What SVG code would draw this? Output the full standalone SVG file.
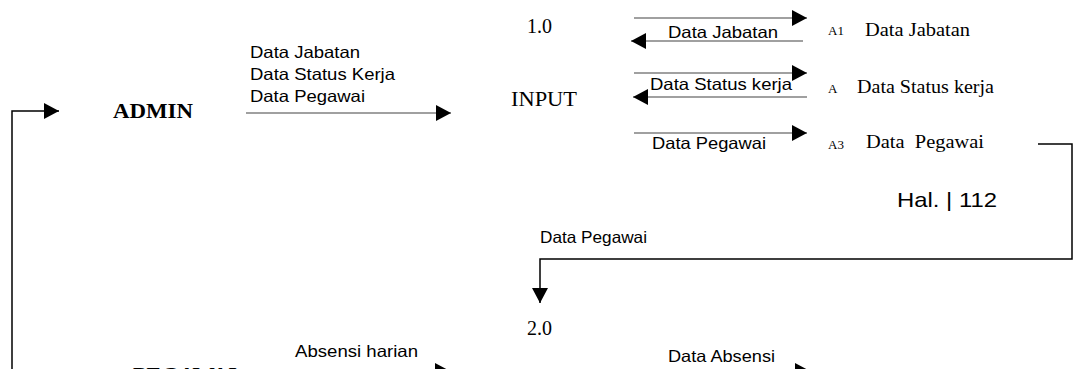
<svg xmlns="http://www.w3.org/2000/svg" width="1083" height="369" viewBox="0 0 1083 369">
<style>
.sans{font-family:"Liberation Sans",Arial,sans-serif;font-size:16.5px;fill:#000}
.serif{font-family:"Liberation Serif","Times New Roman",serif;fill:#000}
.ent{font-weight:bold;font-size:22px}
.flow{fill:none;stroke:#808080;stroke-width:1.3}
.conn{fill:none;stroke:#000;stroke-width:1.5}
</style>
<defs>
<marker id="ah" markerUnits="userSpaceOnUse" markerWidth="16" markerHeight="16" refX="15" refY="8" orient="auto">
<path d="M0,0 L15,8 L0,16 Z" fill="#000"/>
</marker>
</defs>
<rect width="1083" height="369" fill="#fff"/>
<g id="node-admin"><text class="serif ent" x="113" y="118" textLength="80" lengthAdjust="spacingAndGlyphs">ADMIN</text></g>
<g id="node-pegawai"><text class="serif ent" x="133" y="382" textLength="104" lengthAdjust="spacingAndGlyphs">PEGAWAI</text></g>
<g id="node-p1">
<text class="serif" font-size="20" x="527" y="33">1.0</text>
<text class="serif" font-size="22" x="511" y="106" textLength="66" lengthAdjust="spacingAndGlyphs">INPUT</text>
</g>
<g id="node-p2"><text class="serif" font-size="20" x="527" y="335">2.0</text></g>
<g id="store-a1">
<text class="serif" font-size="13" x="828" y="35">A1</text>
<text class="serif" font-size="18.5" x="865" y="36" textLength="105" lengthAdjust="spacingAndGlyphs">Data Jabatan</text>
</g>
<g id="store-a">
<text class="serif" font-size="13" x="828" y="93">A</text>
<text class="serif" font-size="18.5" x="857" y="93" textLength="137" lengthAdjust="spacingAndGlyphs">Data Status kerja</text>
</g>
<g id="store-a3">
<text class="serif" font-size="13" x="828" y="149">A3</text>
<text class="serif" font-size="18.5" x="866" y="148" xml:space="preserve" textLength="118" lengthAdjust="spacingAndGlyphs">Data  Pegawai</text>
</g>
<g id="page-label"><text class="sans" font-size="21" x="897" y="207" textLength="100" lengthAdjust="spacingAndGlyphs" style="font-size:21px">Hal. | 112</text></g>
<g id="connectors">
<path class="conn" stroke-width="2" d="M12,369 V111 H59" marker-end="url(#ah)"/>
<path class="flow" d="M246,113 H451" marker-end="url(#ah)"/>
<path class="flow" d="M634,18 H807" marker-end="url(#ah)"/>
<path class="flow" d="M803,41 H631" marker-end="url(#ah)"/>
<path class="flow" d="M634,73 H807" marker-end="url(#ah)"/>
<path class="flow" d="M807,97 H633" marker-end="url(#ah)"/>
<path class="flow" d="M634,133 H807" marker-end="url(#ah)"/>
<path class="conn" d="M1038,144 H1072 V259 H540 V303" marker-end="url(#ah)"/>
<path class="flow" d="M246,371 H450" marker-end="url(#ah)"/>
<path class="flow" d="M634,371 H810" marker-end="url(#ah)"/>
<text class="sans" x="250" y="58" textLength="110" lengthAdjust="spacingAndGlyphs">Data Jabatan</text>
<text class="sans" x="250" y="80" textLength="145" lengthAdjust="spacingAndGlyphs">Data Status Kerja</text>
<text class="sans" x="250" y="102" textLength="115" lengthAdjust="spacingAndGlyphs">Data Pegawai</text>
<text class="sans" x="668" y="38" textLength="110" lengthAdjust="spacingAndGlyphs">Data Jabatan</text>
<text class="sans" x="650" y="90" textLength="142" lengthAdjust="spacingAndGlyphs">Data Status kerja</text>
<text class="sans" x="652" y="149" textLength="114" lengthAdjust="spacingAndGlyphs">Data Pegawai</text>
<text class="sans" x="540" y="243" textLength="107" lengthAdjust="spacingAndGlyphs">Data Pegawai</text>
<text class="sans" x="295" y="357" textLength="123" lengthAdjust="spacingAndGlyphs">Absensi harian</text>
<text class="sans" x="668" y="362" textLength="107" lengthAdjust="spacingAndGlyphs">Data Absensi</text>
</g>
</svg>
